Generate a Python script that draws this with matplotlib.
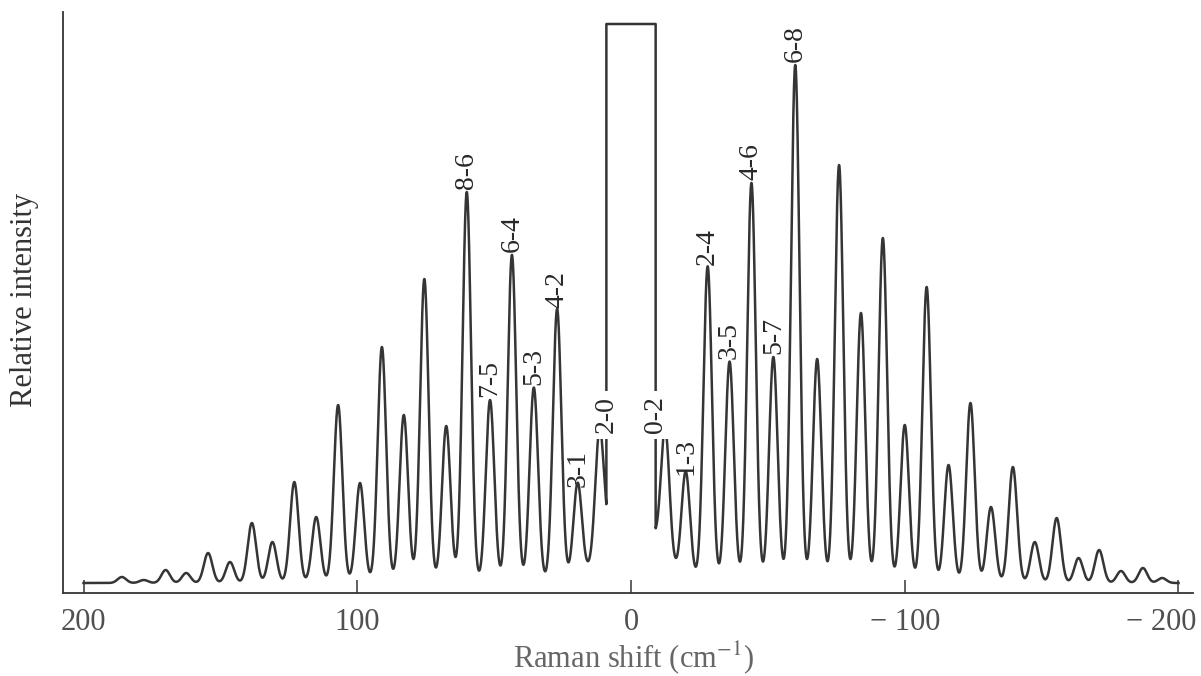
import numpy as np
import matplotlib
matplotlib.use('Agg')
import matplotlib.pyplot as plt
import matplotlib.transforms as mtransforms

# anti-Stokes lines (positive shift), J = 0, 1, 2, ...
as_shift = [11.5, 19.5, 27, 35.5, 43.5, 51.5, 60, 67.5, 75.5, 83, 91, 99, 107,
            115, 123, 131, 138.5, 146.5, 154.5, 162.5, 170, 178, 186]
as_height = [126, 93, 272, 195, 328, 183, 391, 157, 304, 168, 236, 100, 178,
             66, 101, 41, 60, 21, 30, 10, 13, 3, 6]
as_labels = ['2-0', '3-1', '4-2', '5-3', '6-4', '7-5', '8-6']

# Stokes lines (negative shift), J = 0, 1, 2, ...
st_shift = [-12.5, -20, -28, -36, -44, -52, -60, -68, -76, -84, -92, -100, -108,
            -116, -124, -131.5, -139.5, -147.5, -155.5, -163.5, -171, -179, -187, -194]
st_height = [131, 105, 315, 221, 400, 226, 518, 224, 418, 270, 345, 158, 296,
             118, 180, 76, 116, 41, 65, 25, 33, 12, 15, 5]
st_labels = ['0-2', '1-3', '2-4', '3-5', '4-6', '5-7', '6-8']

# Rayleigh line, off scale -> drawn as a box
rayleigh_edges = [9.0, -9.0]
rayleigh_top = 559
wing_amp = 210
wing_decay = 5.8
line_sigma = 1.55

tick_pos = [200, 100, 0, -100, -200]
tick_txt = ['200', '100', '0', '\u2212 100', '\u2212 200']

plt.rcParams['font.family'] = ['Liberation Serif', 'DejaVu Serif']
plt.rcParams['mathtext.fontset'] = 'stix'

ink = '#353535'


def spectrum(x):
    y = wing_amp * np.exp(-np.abs(x) / wing_decay)
    for c, h in zip(as_shift + st_shift, as_height + st_height):
        y = y + h * np.exp(-(x - c) ** 2 / (2 * line_sigma ** 2))
    return y


fig = plt.figure(figsize=(12.01, 6.76), dpi=100)
ax = fig.add_axes([63 / 1201, 83 / 676, 1130 / 1201, 581 / 676])

grid = np.linspace(200, -200, 8001)
left = grid[grid >= rayleigh_edges[0]]
right = grid[grid <= rayleigh_edges[1]]
xs = np.concatenate([left, [rayleigh_edges[0], rayleigh_edges[1]], right])
ys = np.concatenate([spectrum(left), [rayleigh_top, rayleigh_top], spectrum(right)])
ax.plot(xs, ys, color=ink, lw=1.8, zorder=2)

# labels on top of the peaks
for lbl, c, h in zip(as_labels[1:], as_shift[1:], as_height[1:]):
    ax.annotate(lbl, xy=(c, h), xytext=(0, 2), textcoords='offset points',
                rotation=90, ha='center', va='bottom', fontsize=20, color='#282828')
for lbl, c, h in zip(st_labels[1:], st_shift[1:], st_height[1:]):
    ax.annotate(lbl, xy=(c, h), xytext=(0, 2), textcoords='offset points',
                rotation=90, ha='center', va='bottom', fontsize=20, color='#282828')

# J=0 labels sit on the sides of the Rayleigh box
for lbl, edge in zip([as_labels[0], st_labels[0]], rayleigh_edges):
    ax.text(edge, 168, lbl, rotation=90, ha='center', va='center', fontsize=20,
            color='#282828', zorder=3,
            bbox=dict(fc='white', ec='none', pad=4))

ax.set_xlim(207.5, -205.3)
ax.set_ylim(-10, 571)
ax.spines['top'].set_visible(False)
ax.spines['right'].set_visible(False)
for s in ['left', 'bottom']:
    ax.spines[s].set_color(ink)
    ax.spines[s].set_linewidth(1.3)
ax.set_yticks([])
ax.set_xticks(tick_pos)
ax.set_xticklabels(tick_txt)
ax.tick_params(axis='x', direction='in', length=9.5, width=1.1, color=ink,
               labelsize=22, labelcolor='#505050', pad=11)

# last label pulled in a bit so it stays inside the picture
lab = ax.get_xticklabels()[-1]
lab.set_transform(lab.get_transform() +
                  mtransforms.ScaledTranslation(-17 / 100, 0, fig.dpi_scale_trans))

fig.text(25 / 1201, 1 - 300 / 676, 'Relative intensity', rotation=90,
         ha='center', va='center', fontsize=22, color='#333333')
fig.text(634 / 1201, 1 - 658 / 676, 'Raman shift (cm$^{-1}$)',
         ha='center', va='center', fontsize=22, color='#666666')

fig.savefig('out.png', dpi=100)
